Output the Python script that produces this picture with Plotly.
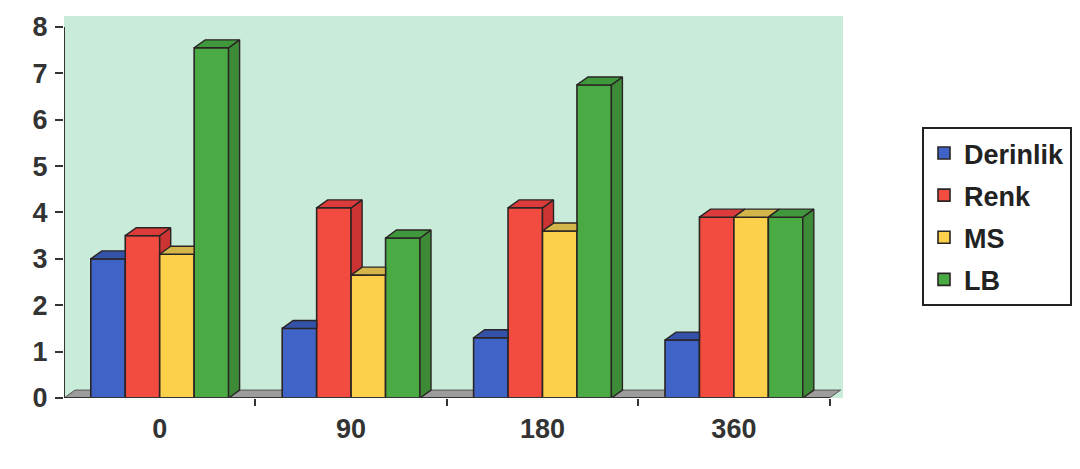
import plotly.graph_objects as go

categories = ["0", "90", "180", "360"]
series_names = ["Derinlik", "Renk", "MS", "LB"]
derinlik = [3.0, 1.5, 1.3, 1.25]
renk = [3.5, 4.1, 4.1, 3.9]
ms = [3.1, 2.65, 3.6, 3.9]
lb = [7.55, 3.45, 6.75, 3.9]
y_ticks = [0, 1, 2, 3, 4, 5, 6, 7, 8]

series_values = [derinlik, renk, ms, lb]
front_colors = ["#3f63c6", "#f24b3f", "#fdd04b", "#4aab45"]
top_colors = ["#3452a8", "#dc3b3b", "#d3b54a", "#3f983c"]
side_colors = ["#2f4a98", "#cc3434", "#c9a63e", "#3d8a37"]
edge = "#2b2424"
FONT = "Liberation Sans, Arial, sans-serif"

W = 0.18      # bar width (x units)
DX = 0.0575   # depth offset in x units
DY = 0.171    # depth offset in y units
n_s = len(series_values)

fig = go.Figure()

# front faces as bars
for j, (name, vals) in enumerate(zip(series_names, series_values)):
    xs = [i + (j - (n_s - 1) / 2) * W for i in range(len(categories))]
    fig.add_trace(go.Bar(
        x=xs, y=vals, width=W, name=name, legendgroup=name,
        marker=dict(color=front_colors[j], line=dict(color=edge, width=1.6)),
        hoverinfo="skip",
    ))

# 3D side and top faces computed from the data
for j, (name, vals) in enumerate(zip(series_names, series_values)):
    sx, sy, tx, ty = [], [], [], []
    for i, v in enumerate(vals):
        left = i + (j - (n_s - 1) / 2) * W - W / 2
        right = left + W
        vn = series_values[j + 1][i] if j + 1 < n_s else 0.0
        # side face (visible part above the next bar's front)
        if v > vn:
            sx += [right, right + DX, right + DX, right, right, None]
            sy += [max(vn, 0), max(vn, DY), v + DY, v, max(vn, 0), None]
        # top face (clipped by the next bar's front)
        if vn >= v + DY:
            tx += [left, left + DX, right, right, left, None]
            ty += [v, v + DY, v + DY, v, v, None]
        elif vn > v:
            xm = right + (vn - v) / DY * DX
            tx += [left, left + DX, right + DX, xm, right, right, left, None]
            ty += [v, v + DY, v + DY, vn, vn, v, v, None]
        else:
            tx += [left, left + DX, right + DX, right, left, None]
            ty += [v, v + DY, v + DY, v, v, None]
    fig.add_trace(go.Scatter(x=sx, y=sy, mode="lines", fill="toself",
                             fillcolor=side_colors[j], line=dict(color=edge, width=1.4),
                             showlegend=False, legendgroup=name, hoverinfo="skip"))
    fig.add_trace(go.Scatter(x=tx, y=ty, mode="lines", fill="toself",
                             fillcolor=top_colors[j], line=dict(color=edge, width=1.4),
                             showlegend=False, legendgroup=name, hoverinfo="skip"))

n_c = len(categories)
x_lo, x_hi = -0.5, n_c - 0.5

shapes = [
    # floor
    dict(type="path", xref="x", yref="y", layer="below",
         path=f"M{x_lo},0 L{x_hi},0 L{x_hi + DX},{DY} L{x_lo + DX},{DY} Z",
         fillcolor="#9c9c9c", line=dict(color="#555555", width=1)),
    # y axis line
    dict(type="line", xref="x", yref="y", x0=x_lo, x1=x_lo, y0=0, y1=y_ticks[-1],
         line=dict(color="#333333", width=2)),
    # x axis line
    dict(type="line", xref="x", yref="y", x0=x_lo, x1=x_hi, y0=0, y1=0,
         line=dict(color="#333333", width=2)),
]

fig.update_layout(
    width=1080, height=469,
    margin=dict(l=64, r=237, t=12, b=71),
    paper_bgcolor="white",
    plot_bgcolor="#c8ecd9",
    barmode="overlay",
    shapes=shapes,
    showlegend=True,
    legend=dict(
        xref="container", yref="container",
        x=922 / 1080, y=1 - 127 / 469, xanchor="left", yanchor="top",
        bgcolor="white", bordercolor="#222222", borderwidth=2,
        font=dict(family=FONT, size=27, color="#222222", weight="bold"),
        tracegroupgap=4, traceorder="grouped",
    ),
    xaxis=dict(
        range=[x_lo, x_hi + 0.07],
        tickvals=list(range(n_c)), ticktext=categories,
        ticks="", showgrid=False, zeroline=False, showline=False,
        tickfont=dict(family=FONT, size=27, color="#333333", weight="bold"),
        ticklabelstandoff=12,
        minor=dict(tickvals=[k + 0.5 for k in range(n_c)], ticks="outside", ticklen=7,
                   tickcolor="#333333", tickwidth=2),
        fixedrange=True,
    ),
    yaxis=dict(
        range=[0, 8.235],
        tickvals=y_ticks,
        ticks="outside", ticklen=8, tickcolor="#333333", tickwidth=2,
        showgrid=False, zeroline=False, showline=False,
        tickfont=dict(family=FONT, size=27, color="#333333", weight="bold"),
        ticklabelstandoff=2,
        fixedrange=True,
    ),
)

fig.write_html("out.html")
